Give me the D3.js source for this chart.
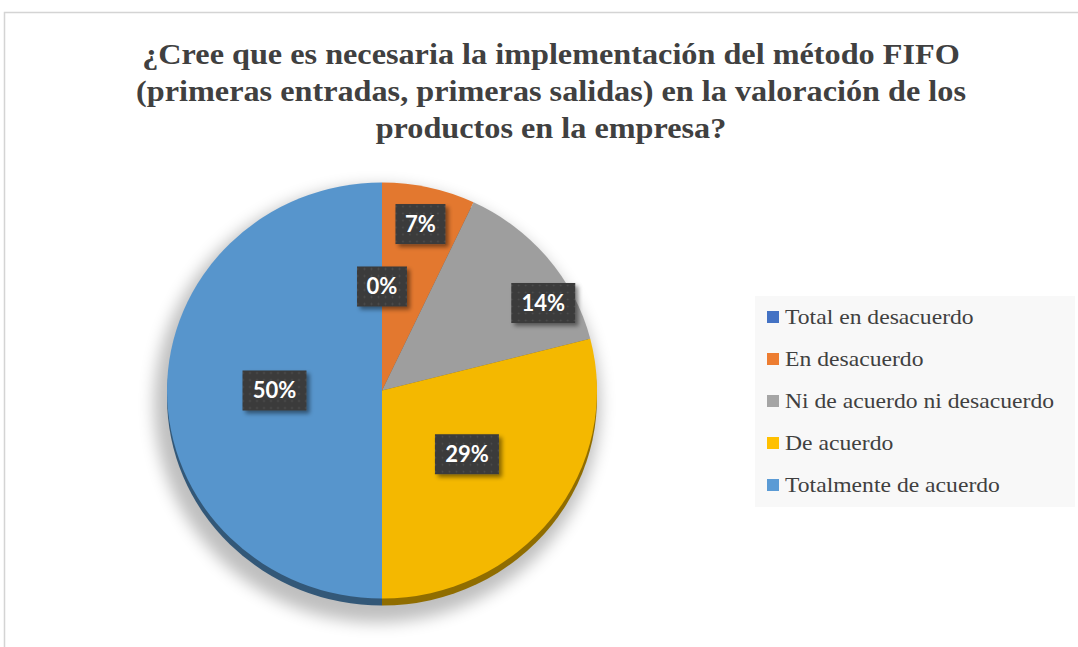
<!DOCTYPE html>
<html>
<head>
<meta charset="utf-8">
<script src="https://cdn.jsdelivr.net/npm/d3@7"></script>
<style>
  body { margin: 0; background: #fff; }
  svg { display: block; }
</style>
</head>
<body>
<div id="chart"></div>
<script>
// survey answers (share of respondents, %)
var categories = ["Total en desacuerdo", "En desacuerdo", "Ni de acuerdo ni desacuerdo", "De acuerdo", "Totalmente de acuerdo"];
var values = [0, 7, 14, 29, 50];
var valueLabels = ["0%", "7%", "14%", "29%", "50%"];
var colors = ["#4472c4", "#ed7d31", "#a5a5a5", "#ffc000", "#5b9bd5"];
var titleLines = [
  "¿Cree que es necesaria la implementación del método FIFO",
  "(primeras entradas, primeras salidas) en la valoración de los",
  "productos en la empresa?"
];

var width = 1078, height = 647;
var cx = 382, cy = 390.5, R = 215, squash = 208 / 215, depth = 7;
var stretch = 1.075; // the source picture is slightly wider than tall

var svg = d3.select("#chart").append("svg")
    .attr("width", width)
    .attr("height", height);

var defs = svg.append("defs");

defs.append("filter").attr("id", "pieShadow")
    .attr("x", "-20%").attr("y", "-20%").attr("width", "140%").attr("height", "140%")
  .append("feGaussianBlur").attr("stdDeviation", 8);

var boxShadow = defs.append("filter").attr("id", "boxShadow")
    .attr("x", "-30%").attr("y", "-30%").attr("width", "160%").attr("height", "160%");
boxShadow.append("feDropShadow")
    .attr("dx", 3).attr("dy", 3).attr("stdDeviation", 2)
    .attr("flood-color", "#000").attr("flood-opacity", 0.45);

var dots = defs.append("pattern").attr("id", "dots")
    .attr("width", 7).attr("height", 7).attr("patternUnits", "userSpaceOnUse");
dots.append("rect").attr("width", 7).attr("height", 7).attr("fill", "#3a3a3a");
dots.append("circle").attr("cx", 3.5).attr("cy", 3.5).attr("r", 1).attr("fill", "#4e4e4e");

// chart frame
svg.append("path")
    .attr("d", "M4.5," + height + "V12.5H" + width)
    .attr("fill", "none")
    .attr("stroke", "#d4d4d4")
    .attr("stroke-width", 1.5);

// title
svg.append("text")
    .attr("transform", "translate(551,0) scale(" + stretch + ",1)")
    .attr("y", 64)
    .attr("text-anchor", "middle")
    .style("font-family", "'Liberation Serif', 'Times New Roman', serif")
    .style("font-weight", "bold")
    .style("font-size", "30px")
    .style("fill", "#404040")
  .selectAll("tspan")
    .data(titleLines)
  .enter().append("tspan")
    .attr("x", 0)
    .attr("dy", function(d, i) { return i ? 37 : 0; })
    .text(function(d) { return d; });

var pie = d3.pie().sort(null).value(function(d) { return d; });
var arcs = pie(values);
var arc = d3.arc().innerRadius(0).outerRadius(R);

// soft shadow under the pie
svg.append("ellipse")
    .attr("cx", cx - 5)
    .attr("cy", cy + 14)
    .attr("rx", R + 8)
    .attr("ry", R * squash + 10)
    .attr("fill", "#000")
    .attr("opacity", 0.25)
    .attr("filter", "url(#pieShadow)");

// pie side (visible thickness)
svg.append("g")
    .attr("transform", "translate(" + cx + "," + (cy + depth) + ") scale(1," + squash + ")")
  .selectAll("path")
    .data(arcs)
  .enter().append("path")
    .attr("d", arc)
    .attr("fill", function(d, i) { return d3.color(colors[i]).darker(1.6); });

// pie face
svg.append("g")
    .attr("transform", "translate(" + cx + "," + cy + ") scale(1," + squash + ")")
  .selectAll("path")
    .data(arcs)
  .enter().append("path")
    .attr("d", arc)
    .attr("fill", function(d, i) { return d3.color(colors[i]).darker(0.12); });

// data labels (best fit: big slices centred, thin slices pushed outward)
function labelPos(d) {
  var a = (d.startAngle + d.endAngle) / 2;
  var rf = (d.value === 0 || d.value >= 25) ? 0.5 : (d.value < 10 ? 0.82 : 0.86);
  var a2 = d.value > 10 && d.value < 25 ? a + 0.18 : a;
  return [cx + Math.sin(a2) * R * rf, cy - Math.cos(a2) * R * rf * squash];
}

var lab = svg.append("g").selectAll("g")
    .data(arcs)
  .enter().append("g")
    .attr("transform", function(d) { var p = labelPos(d); return "translate(" + p[0] + "," + p[1] + ")"; });

lab.append("rect")
    .attr("x", function(d, i) { return valueLabels[i].length > 2 ? -32 : -25; })
    .attr("y", -20)
    .attr("width", function(d, i) { return valueLabels[i].length > 2 ? 64 : 50; })
    .attr("height", 40)
    .attr("fill", "url(#dots)")
    .attr("filter", "url(#boxShadow)");

lab.append("text")
    .attr("text-anchor", "middle")
    .attr("dy", "0.36em")
    .style("font-family", "Lato, 'Open Sans', sans-serif")
    .style("font-weight", "bold")
    .style("font-size", "22px")
    .style("fill", "#fff")
    .text(function(d, i) { return valueLabels[i]; });

// legend
var legend = svg.append("g").attr("transform", "translate(755,296)");
legend.append("rect")
    .attr("width", 320)
    .attr("height", 211)
    .attr("fill", "#f8f8f8");

var items = legend.selectAll("g.item")
    .data(categories)
  .enter().append("g")
    .attr("class", "item")
    .attr("transform", function(d, i) { return "translate(12," + (21 + i * 42) + ")"; });

items.append("rect")
    .attr("x", 0)
    .attr("y", -6)
    .attr("width", 12)
    .attr("height", 12)
    .attr("fill", function(d, i) { return colors[i]; });

items.append("text")
    .attr("transform", "translate(18,0) scale(" + stretch + ",1)")
    .attr("dy", "0.33em")
    .style("font-family", "'Liberation Serif', 'Times New Roman', serif")
    .style("font-size", "22px")
    .style("fill", "#404040")
    .text(function(d) { return d; });
</script>
</body>
</html>
